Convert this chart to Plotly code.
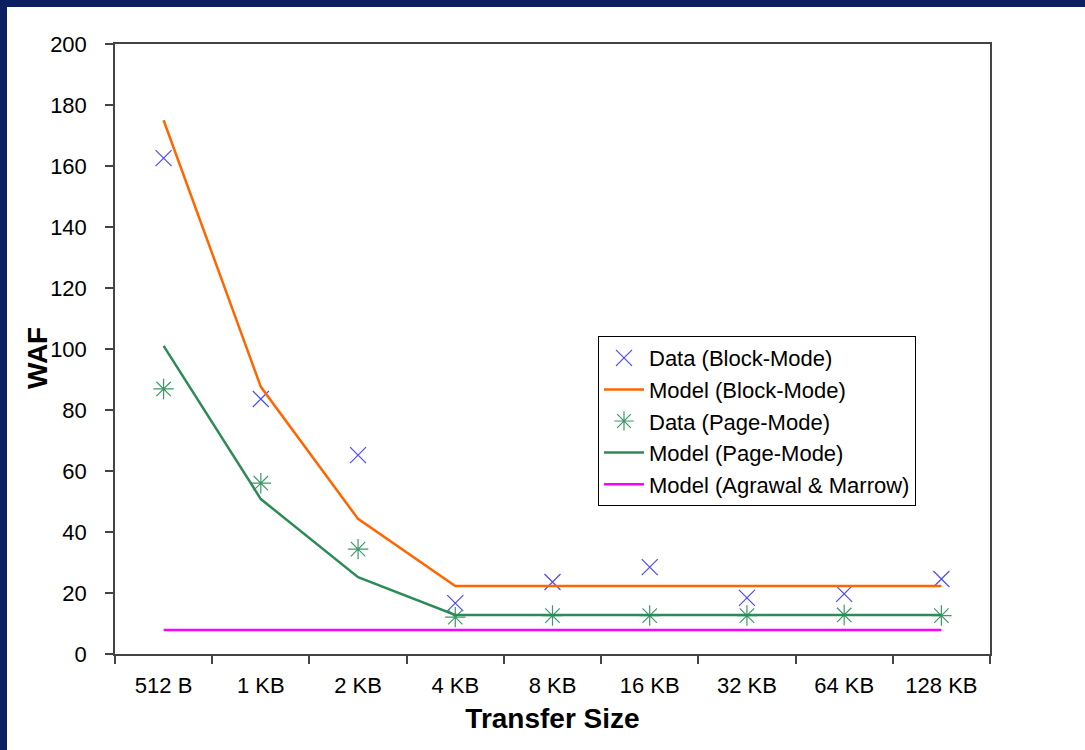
import plotly.graph_objects as go

categories = ["512 B", "1 KB", "2 KB", "4 KB", "8 KB", "16 KB", "32 KB", "64 KB", "128 KB"]
data_block = [162.6, 83.6, 65.2, 16.7, 23.6, 28.5, 18.4, 19.7, 24.6]
model_block = [175.0, 87.6, 44.3, 22.3, 22.3, 22.3, 22.3, 22.3, 22.3]
data_page = [86.9, 56.0, 34.4, 12.1, 12.6, 12.6, 12.6, 12.8, 12.6]
model_page = [101.0, 50.8, 25.2, 12.8, 12.8, 12.8, 12.8, 12.8, 12.8]
model_agrawal = [7.9] * 9

FONT = "Liberation Sans, Arial, sans-serif"
BLUE = "#4a4aff"
GREEN_PT = "#3c9a68"

fig = go.Figure()
fig.add_trace(go.Scatter(x=categories, y=data_block, mode="markers", name="Data (Block-Mode)",
                         legendgroup="a",
                         marker=dict(symbol="x-thin", size=16, color=BLUE,
                                     line=dict(color=BLUE, width=1.2))))
fig.add_trace(go.Scatter(x=categories, y=model_block, mode="lines", name="Model (Block-Mode)",
                         legendgroup="b", line=dict(color="#ff6600", width=2.5)))
fig.add_trace(go.Scatter(x=categories, y=data_page, mode="markers", name="Data (Page-Mode)",
                         legendgroup="c",
                         marker=dict(symbol="asterisk-open", size=17, color=GREEN_PT,
                                     line=dict(color=GREEN_PT, width=1.2))))
fig.add_trace(go.Scatter(x=categories, y=model_page, mode="lines", name="Model (Page-Mode)",
                         legendgroup="d", line=dict(color="#2e8b57", width=2.5)))
fig.add_trace(go.Scatter(x=categories, y=model_agrawal, mode="lines", name="Model (Agrawal & Marrow)",
                         legendgroup="e", line=dict(color="#ff00ff", width=2.5)))

fig.add_shape(type="rect", xref="paper", yref="paper",
              x0=(7 - 115) / 875, x1=1.2, y0=-0.3, y1=(654 - 7) / 610,
              fillcolor="white", line=dict(width=0), layer="below")

fig.add_annotation(text="<b>WAF</b>", xref="paper", yref="paper",
                   x=(37 - 115) / 875, y=(654 - 358) / 610, textangle=-90,
                   showarrow=False, xanchor="center", yanchor="middle",
                   font=dict(family=FONT, size=28, color="black"))

fig.update_layout(
    width=1085, height=750,
    margin=dict(l=115, r=95, t=44, b=96),
    paper_bgcolor="#0a2060",
    plot_bgcolor="white",
    font=dict(family=FONT, size=22, color="black"),
    showlegend=True,
    legend=dict(x=(598 - 115) / 875, y=(654 - 336) / 610, xanchor="left", yanchor="top",
                bordercolor="black", borderwidth=1, bgcolor="white",
                font=dict(family=FONT, size=22, color="black"),
                tracegroupgap=0, itemwidth=40),
    xaxis=dict(
        type="category", range=[-0.5, 8.5], tickson="boundaries",
        showline=True, linecolor="#444", linewidth=1.5, mirror=True,
        ticks="outside", ticklen=8, tickcolor="#444", tickwidth=1.5,
        showgrid=False, zeroline=False, ticklabelstandoff=11,
        tickfont=dict(family=FONT, size=22, color="black"),
        title=dict(text="<b>Transfer Size</b>", font=dict(family=FONT, size=28, color="black"), standoff=11),
    ),
    yaxis=dict(
        range=[0, 200], dtick=20,
        showline=True, linecolor="#444", linewidth=1.5, mirror=True,
        ticks="outside", ticklen=8, tickcolor="#444", tickwidth=1.5,
        showgrid=False, zeroline=False, ticklabelstandoff=14,
        tickfont=dict(family=FONT, size=22, color="black"),
    ),
)

fig.write_html("out.html", config={"displayModeBar": False},
               post_script="document.body.style.margin='0';document.body.style.background='#0a2060';document.body.style.overflow='hidden';")
